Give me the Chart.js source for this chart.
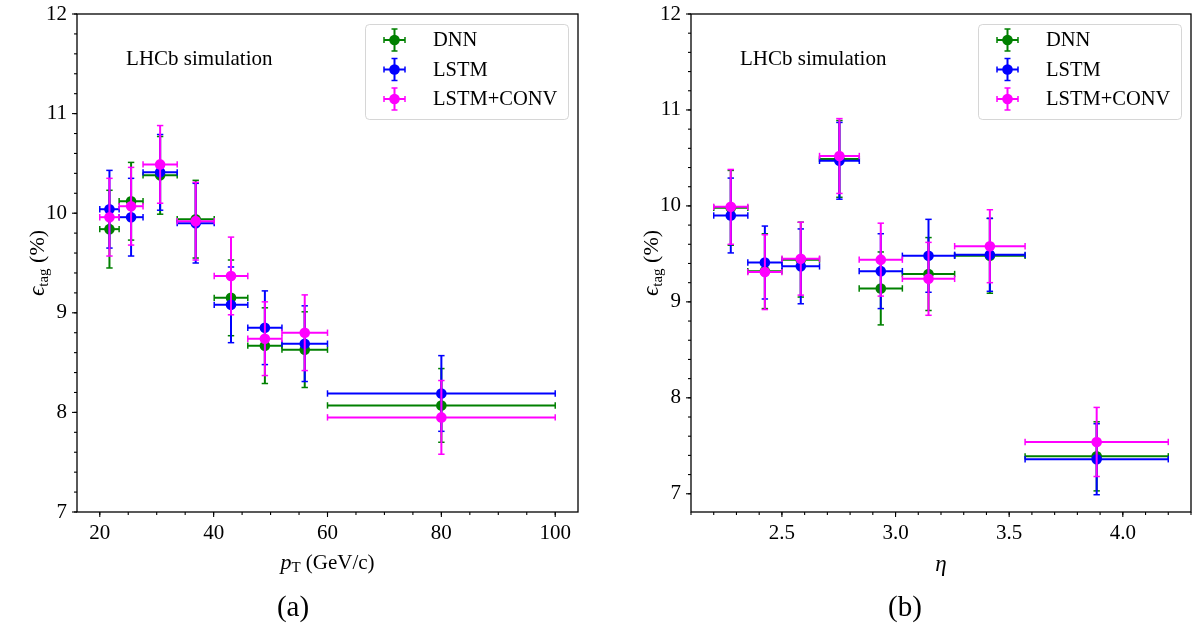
<!DOCTYPE html>
<html><head><meta charset="utf-8">
<script src="https://cdn.jsdelivr.net/npm/chart.js@4.4.0/dist/chart.umd.min.js"></script>
<style>
html,body{margin:0;padding:0;background:#fff;width:1198px;height:632px;overflow:hidden}
canvas{position:absolute;top:0}
#c1{left:0px}
#c2{left:600px}
.cap{position:absolute;top:606px;font-family:'Liberation Serif','DejaVu Serif',serif;font-size:29px;color:#000;transform:translate(-50%,-50%);white-space:nowrap}
</style></head><body>
<canvas id="c1" width="600" height="632"></canvas>
<canvas id="c2" width="598" height="632"></canvas>
<div class="cap" style="left:293px">(a)</div>
<div class="cap" style="left:905px">(b)</div>
<script>
// ---------- data ----------
const seriesNames = ['DNN', 'LSTM', 'LSTM+CONV'];
const seriesColors = ['#008000', '#0000ff', '#ff00ff'];

// panel (a): pT bins
const ptCenters    = [21.7, 25.5, 30.6, 36.85, 43.05, 49.0, 56.0, 80.0];
const ptHalfWidths = [1.7, 2.1, 3.0, 3.25, 2.95, 3.0, 4.0, 20.0];
const dnnPt     = [9.84, 10.12, 10.38, 9.94, 9.15, 8.67, 8.63, 8.07];
const dnnPtErr  = [0.39, 0.39, 0.39, 0.39, 0.38, 0.38, 0.38, 0.37];
const lstmPt    = [10.04, 9.96, 10.41, 9.90, 9.08, 8.85, 8.69, 8.19];
const lstmPtErr = [0.39, 0.39, 0.38, 0.40, 0.38, 0.37, 0.38, 0.38];
const convPt    = [9.96, 10.07, 10.49, 9.92, 9.37, 8.74, 8.80, 7.95];
const convPtErr = [0.39, 0.39, 0.39, 0.39, 0.39, 0.37, 0.38, 0.37];

// panel (b): eta bins
const etaCenters    = [2.275, 2.425, 2.583, 2.753, 2.935, 3.145, 3.415, 3.885];
const etaHalfWidths = [0.075, 0.075, 0.0825, 0.0875, 0.095, 0.115, 0.155, 0.315];
const dnnEta     = [9.98, 9.32, 9.44, 10.49, 9.14, 9.29, 9.48, 7.39];
const dnnEtaErr  = [0.39, 0.39, 0.39, 0.40, 0.38, 0.38, 0.39, 0.36];
const lstmEta    = [9.90, 9.41, 9.37, 10.47, 9.32, 9.48, 9.49, 7.36];
const lstmEtaErr = [0.39, 0.38, 0.39, 0.40, 0.39, 0.38, 0.38, 0.37];
const convEta    = [9.99, 9.31, 9.45, 10.52, 9.44, 9.24, 9.58, 7.54];
const convEtaErr = [0.39, 0.39, 0.38, 0.39, 0.38, 0.38, 0.38, 0.36];

// ticks
const ptTicks  = [20, 40, 60, 80, 100];
const etaTicks = [2.5, 3.0, 3.5, 4.0];
const effTicks = [7, 8, 9, 10, 11, 12];
const annotationText = 'LHCb simulation';

// ---------- helpers ----------
const SERIF = "'Liberation Serif','DejaVu Serif',serif";
function range(a, b, step) { const r = []; for (let v = a; v <= b + 1e-9; v += step) r.push(Math.round(v * 1000) / 1000); return r; }
function line(ctx, x0, y0, x1, y1) { ctx.beginPath(); ctx.moveTo(x0, y0); ctx.lineTo(x1, y1); ctx.stroke(); }

function makeData(xs, xw, ys, ye) {
  return xs.map((x, i) => ({ x: x, y: ys[i], xerr: xw[i], yerr: ye[i] }));
}

function drawErrIcon(ctx, cx, cy, color) {
  ctx.save();
  ctx.strokeStyle = color; ctx.fillStyle = color;
  ctx.lineWidth = 2;
  line(ctx, cx - 10.5, cy, cx + 10.5, cy);
  line(ctx, cx, cy - 11, cx, cy + 11);
  ctx.lineWidth = 1.5;
  line(ctx, cx - 10.5, cy - 3, cx - 10.5, cy + 3);
  line(ctx, cx + 10.5, cy - 3, cx + 10.5, cy + 3);
  line(ctx, cx - 3, cy - 11, cx + 3, cy - 11);
  line(ctx, cx - 3, cy + 11, cx + 3, cy + 11);
  ctx.beginPath(); ctx.arc(cx, cy, 5.3, 0, Math.PI * 2); ctx.fill();
  ctx.restore();
}

const errorBarPlugin = {
  id: 'errbars',
  beforeDatasetDraw(chart, args) {
    const ds = chart.data.datasets[args.index];
    const xs = chart.scales.x, ys = chart.scales.y, ctx = chart.ctx;
    ctx.save();
    ctx.strokeStyle = ds.backgroundColor;
    ds.data.forEach(p => {
      const x = xs.getPixelForValue(p.x), y = ys.getPixelForValue(p.y);
      const x0 = xs.getPixelForValue(p.x - p.xerr), x1 = xs.getPixelForValue(p.x + p.xerr);
      const y0 = ys.getPixelForValue(p.y - p.yerr), y1 = ys.getPixelForValue(p.y + p.yerr);
      ctx.lineWidth = 2;
      line(ctx, x0, y, x1, y);
      line(ctx, x, y0, x, y1);
      ctx.lineWidth = 1.5;
      line(ctx, x0, y - 3.2, x0, y + 3.2);
      line(ctx, x1, y - 3.2, x1, y + 3.2);
      line(ctx, x - 3.2, y0, x + 3.2, y0);
      line(ctx, x - 3.2, y1, x + 3.2, y1);
    });
    ctx.restore();
  }
};

function drawRich(ctx, parts, cx, cy) {
  let total = 0;
  parts.forEach(p => { ctx.font = p.f; p.w = ctx.measureText(p.t).width; total += p.w; });
  let x = cx - total / 2;
  ctx.textAlign = 'left'; ctx.textBaseline = 'alphabetic';
  parts.forEach(p => { ctx.font = p.f; ctx.fillText(p.t, x, cy + p.dy); x += p.w; });
}

const decoPlugin = {
  id: 'deco',
  afterDraw(chart) {
    const o = chart.options.plugins.deco;
    const ctx = chart.ctx;
    const { left, right, top, bottom } = chart.chartArea;
    const xs = chart.scales.x, ys = chart.scales.y;
    ctx.save();
    ctx.strokeStyle = '#000'; ctx.fillStyle = '#000';
    // frame
    ctx.lineWidth = 1.3;
    ctx.strokeRect(left, top, right - left, bottom - top);
    // ticks
    ctx.lineWidth = 1.1;
    o.xMinor.forEach(v => { const px = xs.getPixelForValue(v); if (px >= left - 0.5 && px <= right + 0.5) line(ctx, px, bottom, px, bottom + 3); });
    o.xMajor.forEach(v => { const px = xs.getPixelForValue(v); line(ctx, px, bottom, px, bottom + 5); });
    o.yMinor.forEach(v => { const py = ys.getPixelForValue(v); if (py >= top - 0.5 && py <= bottom + 0.5) line(ctx, left, py, left - 3, py); });
    o.yMajor.forEach(v => { const py = ys.getPixelForValue(v); line(ctx, left, py, left - 5, py); });
    // annotation
    ctx.font = '21px ' + SERIF; ctx.textAlign = 'left'; ctx.textBaseline = 'middle';
    ctx.fillText(annotationText, left + 0.098 * (right - left), top + 45);
    // x title
    drawRich(ctx, o.xTitle, (left + right) / 2, bottom + 50);
    // y title (rotated)
    ctx.save();
    ctx.translate(left - 41, (top + bottom) / 2);
    ctx.rotate(-Math.PI / 2);
    drawRich(ctx, [
      { t: '\u03F5', f: 'italic 23px ' + SERIF, dy: 8 },
      { t: 'tag', f: '15px ' + SERIF, dy: 12 },
      { t: ' (%)', f: '22px ' + SERIF, dy: 8 }
    ], 0, 0);
    ctx.restore();
    // legend
    const bw = 203, bh = 95, bx = right - 10 - bw, by = top + 10;
    ctx.save();
    ctx.globalAlpha = 0.8;
    ctx.fillStyle = '#fff';
    ctx.strokeStyle = '#cccccc';
    ctx.lineWidth = 1;
    ctx.beginPath();
    if (ctx.roundRect) ctx.roundRect(bx + 0.5, by + 0.5, bw, bh, 4); else ctx.rect(bx + 0.5, by + 0.5, bw, bh);
    ctx.fill(); ctx.stroke();
    ctx.restore();
    const rows = [16, 45.5, 75];
    seriesNames.forEach((n, i) => {
      drawErrIcon(ctx, bx + 29.5, by + rows[i], seriesColors[i]);
      ctx.fillStyle = '#000';
      ctx.font = '20.5px ' + SERIF; ctx.textAlign = 'left'; ctx.textBaseline = 'middle';
      ctx.fillText(n, bx + 68, by + rows[i] + 1);
    });
    ctx.restore();
  }
};

function buildChart(canvasId, cfg) {
  const datasets = cfg.series.map((s, i) => ({
    label: seriesNames[i],
    data: s,
    backgroundColor: seriesColors[i],
    borderColor: seriesColors[i],
    pointRadius: 5.3,
    pointBorderWidth: 0,
    pointHoverRadius: 5.3,
    showLine: false,
    order: 3 - i
  }));
  return new Chart(document.getElementById(canvasId), {
    type: 'scatter',
    data: { datasets },
    plugins: [errorBarPlugin, decoPlugin],
    options: {
      responsive: false,
      animation: false,
      events: [],
      layout: { padding: cfg.padding },
      plugins: {
        legend: { display: false },
        tooltip: { enabled: false },
        deco: { xMajor: cfg.xTicks, xMinor: cfg.xMinor, yMajor: effTicks, yMinor: range(7, 12, 0.2), xTitle: cfg.xTitle }
      },
      scales: {
        x: {
          type: 'linear', min: cfg.xMin, max: cfg.xMax,
          afterFit: s => { s.height = 120; s.paddingLeft = 0; s.paddingRight = 0; },
          afterBuildTicks: s => { s.ticks = cfg.xTicks.map(v => ({ value: v })); },
          grid: { display: false, drawTicks: false },
          border: { display: false },
          ticks: { autoSkip: false, maxRotation: 0, padding: 9, color: '#000', font: { family: SERIF, size: 21 }, callback: cfg.xFmt }
        },
        y: {
          type: 'linear', min: cfg.yMin, max: 12,
          afterFit: s => { s.width = cfg.yWidth; s.paddingTop = 0; s.paddingBottom = 0; },
          afterBuildTicks: s => { s.ticks = effTicks.map(v => ({ value: v })); },
          grid: { display: false, drawTicks: false },
          border: { display: false },
          ticks: { autoSkip: false, padding: 10, color: '#000', font: { family: SERIF, size: 21 }, callback: v => String(v) }
        }
      }
    }
  });
}

buildChart('c1', {
  series: [makeData(ptCenters, ptHalfWidths, dnnPt, dnnPtErr),
           makeData(ptCenters, ptHalfWidths, lstmPt, lstmPtErr),
           makeData(ptCenters, ptHalfWidths, convPt, convPtErr)],
  xMin: 16, xMax: 104, yMin: 7,
  xTicks: ptTicks, xMinor: range(15, 105, 5),
  xFmt: v => String(v),
  padding: { top: 14, right: 22, bottom: 0, left: 0 },
  yWidth: 77,
  xTitle: [{ t: 'p', f: 'italic 22px ' + SERIF, dy: 7 }, { t: 'T', f: '15px ' + SERIF, dy: 10 }, { t: ' (GeV/c)', f: '21px ' + SERIF, dy: 7 }]
});

buildChart('c2', {
  series: [makeData(etaCenters, etaHalfWidths, dnnEta, dnnEtaErr),
           makeData(etaCenters, etaHalfWidths, lstmEta, lstmEtaErr),
           makeData(etaCenters, etaHalfWidths, convEta, convEtaErr)],
  xMin: 2.1, xMax: 4.3, yMin: 6.81,
  xTicks: etaTicks, xMinor: range(2.1, 4.3, 0.1),
  xFmt: v => Number(v).toFixed(1),
  padding: { top: 14, right: 7, bottom: 0, left: 0 },
  yWidth: 91,
  xTitle: [{ t: '\u03B7', f: 'italic 23px ' + SERIF, dy: 9 }]
});
</script>
</body></html>
